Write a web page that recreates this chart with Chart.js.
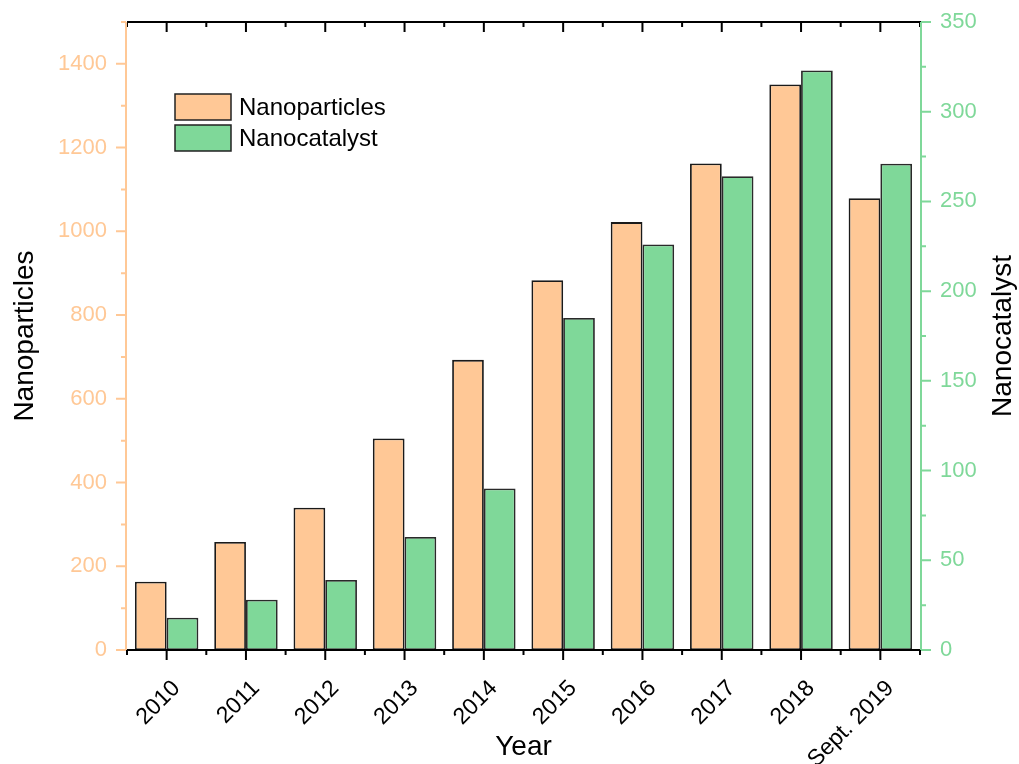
<!DOCTYPE html>
<html>
<head>
<meta charset="utf-8">
<script src="https://cdn.jsdelivr.net/npm/chart.js@4/dist/chart.umd.min.js"></script>
<style>
  html, body { margin: 0; padding: 0; background: #ffffff; }
  #wrap { width: 1019px; height: 764px; }
</style>
</head>
<body>
<div id="wrap"><canvas id="c" width="1019" height="764"></canvas></div>
<script>
// ---- data ----
const categories = ['2010', '2011', '2012', '2013', '2014', '2015', '2016', '2017', '2018', 'Sept. 2019'];
const nanoparticles = [163, 258, 340, 505, 693, 883, 1022, 1162, 1351, 1079];
const nanocatalyst = [18, 28, 39, 63, 90, 185, 226, 264, 323, 271];
const leftTickLabels = [0, 200, 400, 600, 800, 1000, 1200, 1400];
const rightTickLabels = [0, 50, 100, 150, 200, 250, 300, 350];
const seriesNames = ['Nanoparticles', 'Nanocatalyst'];

const ORANGE = '#FFC896';
const GREEN = '#7FD899';
const FONT = "'Liberation Sans', Arial, sans-serif";

const axisPlugin = {
  id: 'axisPlugin',
  afterDatasetsDraw(chart) {
    const ctx = chart.ctx;
    const ca = chart.chartArea;
    const x = chart.scales.x, yl = chart.scales.y, yr = chart.scales.y1;
    ctx.save();
    const n = categories.length;
    const centers = [];
    for (let i = 0; i < n; i++) centers.push(x.getPixelForValue(i));
    const bounds = [ca.left];
    for (let i = 0; i < n - 1; i++) bounds.push((centers[i] + centers[i + 1]) / 2);
    bounds.push(ca.right);

    // top and bottom black axes
    ctx.strokeStyle = '#000';
    ctx.lineWidth = 2;
    ctx.beginPath();
    ctx.moveTo(ca.left, ca.top); ctx.lineTo(ca.right + 1, ca.top);
    ctx.moveTo(ca.left, ca.bottom); ctx.lineTo(ca.right + 1, ca.bottom);
    centers.forEach(cx => {
      ctx.moveTo(cx, ca.top); ctx.lineTo(cx, ca.top + 10);
      ctx.moveTo(cx, ca.bottom); ctx.lineTo(cx, ca.bottom + 10);
    });
    bounds.forEach(bx => {
      ctx.moveTo(bx, ca.top); ctx.lineTo(bx, ca.top + 5);
      ctx.moveTo(bx, ca.bottom); ctx.lineTo(bx, ca.bottom + 5);
    });
    ctx.stroke();

    // left orange axis
    ctx.strokeStyle = ORANGE;
    ctx.beginPath();
    ctx.moveTo(ca.left - 1, ca.top); ctx.lineTo(ca.left - 1, ca.bottom);
    for (let v = yl.min; v <= yl.max; v += 100) {
      const py = yl.getPixelForValue(v);
      const len = (v % 200 === 0) ? 10 : 5;
      ctx.moveTo(ca.left - 1, py); ctx.lineTo(ca.left - 1 - len, py);
    }
    ctx.stroke();

    // right green axis
    ctx.strokeStyle = GREEN;
    ctx.beginPath();
    ctx.moveTo(ca.right + 1, ca.top); ctx.lineTo(ca.right + 1, ca.bottom);
    for (let v = yr.min; v <= yr.max; v += 25) {
      const py = yr.getPixelForValue(v);
      const len = (v % 50 === 0) ? 10 : 5;
      ctx.moveTo(ca.right + 1, py); ctx.lineTo(ca.right + 1 + len, py);
    }
    ctx.stroke();

    // right axis title (reads bottom-to-top)
    ctx.fillStyle = '#000';
    ctx.font = '28px ' + FONT;
    ctx.textAlign = 'center';
    ctx.textBaseline = 'middle';
    ctx.translate(1003, (ca.top + ca.bottom) / 2);
    ctx.rotate(-Math.PI / 2);
    ctx.fillText('Nanocatalyst', 0, 0);
    ctx.restore();

    // legend
    ctx.save();
    const ds = chart.data.datasets;
    ctx.font = '24px ' + FONT;
    ctx.textAlign = 'left';
    ctx.textBaseline = 'middle';
    ds.forEach((d, i) => {
      const bx = 175, by = 94 + i * 31;
      ctx.fillStyle = d.backgroundColor;
      ctx.fillRect(bx, by, 56, 26);
      ctx.strokeStyle = '#222';
      ctx.lineWidth = 1.5;
      ctx.strokeRect(bx, by, 56, 26);
      ctx.fillStyle = '#000';
      ctx.fillText(d.label, 239, by + 14);
    });
    ctx.restore();
  }
};

new Chart(document.getElementById('c'), {
  type: 'bar',
  data: {
    labels: categories,
    datasets: [
      {
        label: seriesNames[0],
        data: nanoparticles,
        yAxisID: 'y',
        backgroundColor: ORANGE,
        borderColor: '#1a1a1a',
        borderWidth: 1.8,
        borderSkipped: false,
        categoryPercentage: 0.8,
        barPercentage: 1.0
      },
      {
        label: seriesNames[1],
        data: nanocatalyst,
        yAxisID: 'y1',
        backgroundColor: GREEN,
        borderColor: '#2a2a2a',
        borderWidth: 1.8,
        borderSkipped: false,
        categoryPercentage: 0.8,
        barPercentage: 1.0
      }
    ]
  },
  options: {
    responsive: false,
    animation: false,
    devicePixelRatio: 1,
    layout: { padding: { top: 22, left: 0, right: 0, bottom: 0 } },
    plugins: {
      legend: { display: false },
      tooltip: { enabled: false }
    },
    scales: {
      x: {
        type: 'category',
        offset: true,
        grid: { display: false, drawTicks: false },
        border: { display: false },
        ticks: {
          color: '#000',
          font: { family: FONT, size: 23 },
          maxRotation: 45,
          minRotation: 45,
          autoSkip: false,
          labelOffset: 10,
          padding: 25
        },
        title: {
          display: true,
          text: 'Year',
          color: '#000',
          font: { family: FONT, size: 28 },
          padding: { top: 0, bottom: 0 }
        },
        afterFit(scale) { scale.height = 114; scale.paddingLeft = 0; scale.paddingRight = 0; }
      },
      y: {
        position: 'left',
        min: 0,
        max: 1500,
        grid: { display: false, drawTicks: false },
        border: { display: false },
        ticks: {
          stepSize: 100,
          color: ORANGE,
          font: { family: FONT, size: 22 },
          padding: 20,
          callback: (v) => leftTickLabels.includes(v) ? String(v) : ''
        },
        title: {
          display: true,
          text: 'Nanoparticles',
          color: '#000',
          font: { family: FONT, size: 28 },
          padding: { top: 8, bottom: 0 }
        },
        afterFit(scale) { scale.width = 127; scale.paddingTop = 0; scale.paddingBottom = 0; }
      },
      y1: {
        position: 'right',
        min: 0,
        max: 350,
        grid: { display: false, drawTicks: false },
        border: { display: false },
        ticks: {
          stepSize: 25,
          color: GREEN,
          font: { family: FONT, size: 22 },
          padding: 20,
          callback: (v) => rightTickLabels.includes(v) ? String(v) : ''
        },
        title: { display: false },
        afterFit(scale) { scale.width = 99; scale.paddingTop = 0; scale.paddingBottom = 0; }
      }
    }
  },
  plugins: [axisPlugin]
});
</script>
</body>
</html>
